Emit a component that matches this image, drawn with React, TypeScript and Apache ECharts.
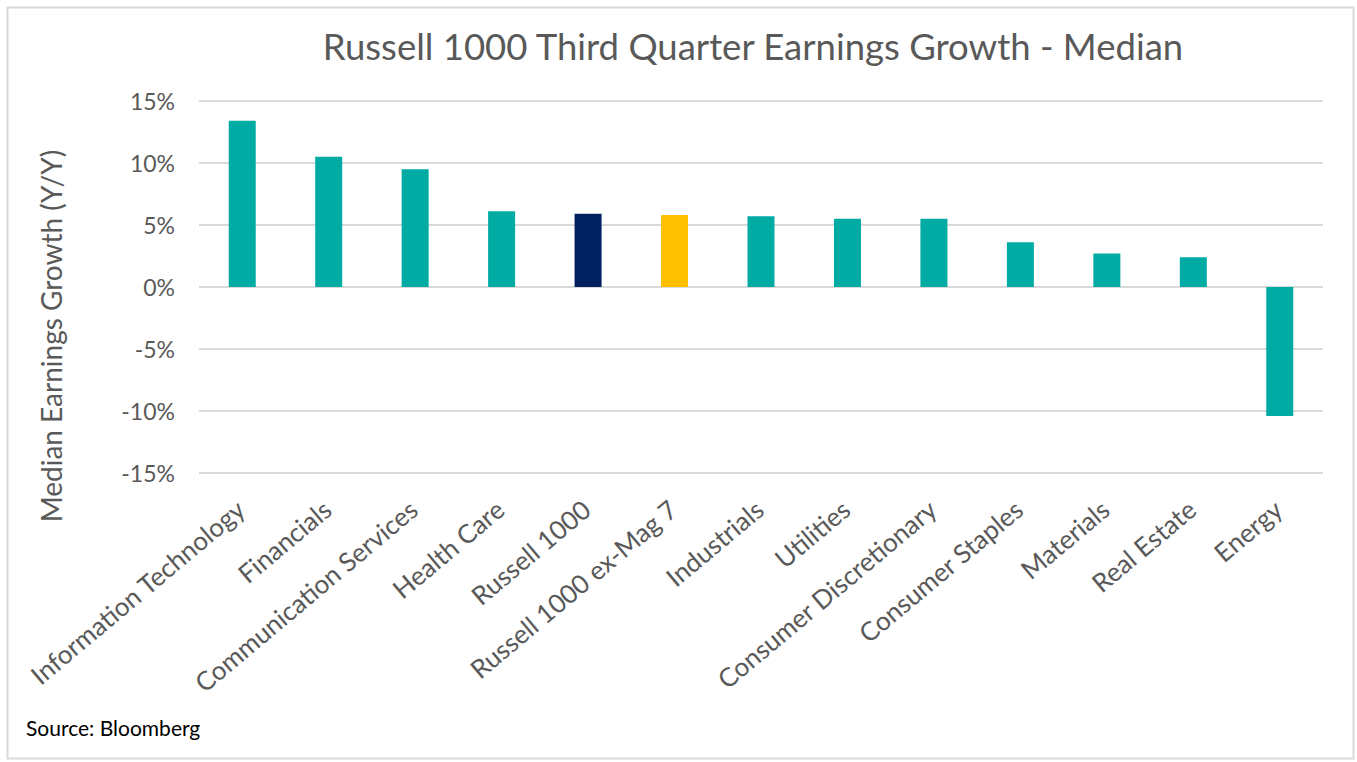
import React, { useEffect, useRef } from "react";
import * as echarts from "echarts";

const categories = [
  "Information Technology",
  "Financials",
  "Communication Services",
  "Health Care",
  "Russell 1000",
  "Russell 1000 ex-Mag 7",
  "Industrials",
  "Utilities",
  "Consumer Discretionary",
  "Consumer Staples",
  "Materials",
  "Real Estate",
  "Energy",
];

const growthValues = [13.4, 10.5, 9.5, 6.1, 5.9, 5.8, 5.7, 5.5, 5.5, 3.6, 2.7, 2.4, -10.4];

const barColors = [
  "#00ABA3", "#00ABA3", "#00ABA3", "#00ABA3", "#002060", "#FFC000",
  "#00ABA3", "#00ABA3", "#00ABA3", "#00ABA3", "#00ABA3", "#00ABA3", "#00ABA3",
];

const yTicks = [-15, -10, -5, 0, 5, 10, 15];

const titleText = "Russell 1000 Third Quarter Earnings Growth - Median";
const yAxisTitle = "Median Earnings Growth (Y/Y)";
const sourceText = "Source: Bloomberg";

export default function App() {
  const ref = useRef<HTMLDivElement>(null);

  useEffect(() => {
    document.body.style.margin = "0";
    if (!ref.current) return;
    const chart = echarts.init(ref.current, undefined, { renderer: "svg" });
    const font = "Lato, 'Open Sans', sans-serif";
    chart.setOption({
      animation: false,
      backgroundColor: "#ffffff",
      textStyle: { fontFamily: font },
      title: {
        text: titleText,
        left: 748,
        textAlign: "center",
        top: 22,
        textStyle: { fontFamily: font, fontSize: 36.5, fontWeight: "normal", color: "#595959" },
      },
      grid: { left: 199, right: 34, top: 101, bottom: 289, containLabel: false },
      xAxis: {
        type: "category",
        data: categories,
        axisLine: { show: false, onZero: false },
        axisTick: { show: false },
        axisLabel: {
          rotate: 40,
          interval: 0,
          margin: 14,
          align: "right",
          verticalAlign: "top",
          padding: [0, 13, 0, 0],
          fontFamily: font,
          fontSize: 26,
          color: "#595959",
        },
      },
      yAxis: {
        type: "value",
        min: yTicks[0],
        max: yTicks[yTicks.length - 1],
        interval: 5,
        axisLine: { show: false },
        axisTick: { show: false },
        splitLine: { lineStyle: { color: "#d9d9d9", width: 2 } },
        axisLabel: {
          formatter: (v: number) => `${v}%`,
          fontFamily: font,
          fontSize: 23,
          color: "#595959",
          margin: 24,
        },
      },
      series: [
        {
          type: "bar",
          data: growthValues.map((v, i) => ({ value: v, itemStyle: { color: barColors[i] } })),
          barWidth: 27,
        },
      ],
      graphic: [
        {
          type: "rect",
          left: 5,
          top: 5,
          shape: { x: 0, y: 0, width: 1346, height: 751 },
          style: { fill: "none", stroke: "#d9d9d9", lineWidth: 2 },
          silent: true,
        },
        {
          type: "text",
          x: 51,
          y: 336,
          rotation: Math.PI / 2,
          style: {
            text: yAxisTitle,
            fontFamily: font,
            fontSize: 28,
            fill: "#595959",
            align: "center",
            verticalAlign: "middle",
          },
        },
        {
          type: "text",
          x: 26,
          y: 727,
          style: {
            text: sourceText,
            fontFamily: font,
            fontSize: 21,
            fill: "#000000",
            align: "left",
            verticalAlign: "middle",
          },
        },
      ],
    });
    return () => chart.dispose();
  }, []);

  return <div ref={ref} style={{ width: 1357, height: 762 }} />;
}
